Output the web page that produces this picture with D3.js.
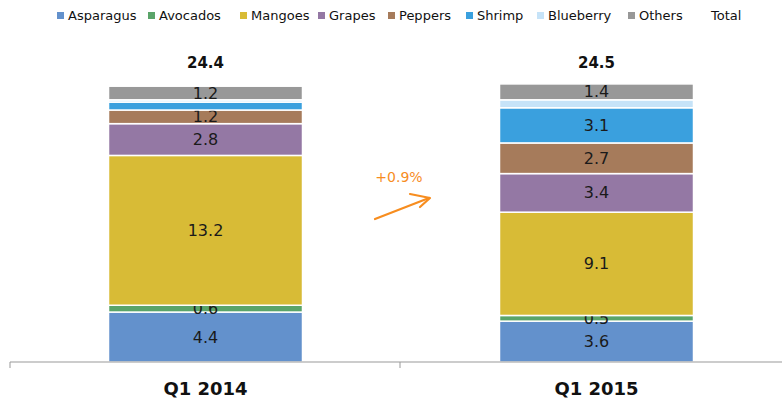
<!DOCTYPE html>
<html>
<head>
<meta charset="utf-8">
<script src="https://cdn.jsdelivr.net/npm/d3@7"></script>
<style>
  body { margin: 0; background: #fff; }
  text { font-family: "DejaVu Sans", Tahoma, sans-serif; }
</style>
</head>
<body>
<svg id="chart" width="782" height="405"></svg>
<script>
// data
var periods = ["Q1 2014", "Q1 2015"]
var products = ["Asparagus", "Avocados", "Mangoes", "Grapes", "Peppers", "Shrimp", "Blueberry", "Others"]
var q12014 = [4.4, 0.6, 13.2, 2.8, 1.2, 0.7, 0.2, 1.2]
var q12015 = [3.6, 0.5, 9.1, 3.4, 2.7, 3.1, 0.7, 1.4]
var totals = [24.4, 24.5]
var colors = ["#6391cc", "#5aa469", "#d8bb36", "#9478a4", "#a67b5b", "#3aa0de", "#c6e3f8", "#989898"]
var growthLabel = "+0.9%"
// segments below this get no label
var minLabel = 1.0

var svg = d3.select("#chart")
var baseY = 362

var x = d3.scaleBand()
  .domain(periods)
  .range([10, 792])
  .paddingInner(0)
  .paddingOuter(0)

var y = d3.scaleLinear()
  .domain([0, 25])
  .range([baseY, baseY - 25 * 11.35])

var barW = 194
var series = [q12014, q12015]

// stacked bars
series.forEach(function(vals, pi){
  var cx = x(periods[pi]) + x.bandwidth() / 2
  var cum = 0
  var g = svg.append("g")
  vals.forEach(function(v, i){
    var y0 = y(cum), y1 = y(cum + v)
    g.append("rect")
      .attr("x", cx - barW / 2)
      .attr("y", y1)
      .attr("width", barW)
      .attr("height", y0 - y1)
      .attr("fill", colors[i])
      .attr("stroke", "#fff")
      .attr("stroke-width", 1.5)
    if (v >= minLabel || products[i] == "Avocados") {
      g.append("text")
        .attr("x", cx)
        .attr("y", (y0 + y1) / 2 + 5.5)
        .attr("text-anchor", "middle")
        .attr("font-size", "16px")
        .attr("fill", "#1a1a1a")
        .text(d3.format(".1f")(v))
    }
    cum += v
  })
  svg.append("text")
    .attr("x", cx)
    .attr("y", 68)
    .attr("text-anchor", "middle")
    .attr("font-size", "15px")
    .attr("font-weight", "bold")
    .attr("fill", "#111")
    .text(d3.format(".1f")(totals[pi]))
})

// axis
var axis = svg.append("g").attr("transform", "translate(0," + baseY + ")")
axis.append("line").attr("x1", 10).attr("x2", 782).attr("y1", 0).attr("y2", 0)
  .attr("stroke", "#999").attr("stroke-width", 1)
;[10, 400].forEach(function(t){
  axis.append("line").attr("x1", t).attr("x2", t).attr("y1", 0).attr("y2", 6)
    .attr("stroke", "#999").attr("stroke-width", 1)
})
periods.forEach(function(p){
  axis.append("text")
    .attr("x", x(p) + x.bandwidth() / 2)
    .attr("y", 33)
    .attr("text-anchor", "middle")
    .attr("font-size", "18px")
    .attr("font-weight", "bold")
    .attr("font-family", "'DejaVu Sans Condensed', 'DejaVu Sans', sans-serif")
    .attr("fill", "#111")
    .text(p)
})

// growth arrow
var orange = "#f78d1f"
svg.append("text")
  .attr("x", 399).attr("y", 182)
  .attr("text-anchor", "middle")
  .attr("font-size", "14px")
  .attr("fill", orange)
  .text(growthLabel)
svg.append("line")
  .attr("x1", 375).attr("y1", 219).attr("x2", 429).attr("y2", 198)
  .attr("stroke", orange).attr("stroke-width", 2.2).attr("stroke-linecap", "round")
svg.append("path")
  .attr("d", "M410,194 L430,198 L420,207")
  .attr("fill", "none").attr("stroke", orange).attr("stroke-width", 2.2)
  .attr("stroke-linecap", "round").attr("stroke-linejoin", "round")

// legend
var legendX = [57, 148, 240, 318, 388, 466, 537, 628]
var legend = svg.append("g")
products.forEach(function(p, i){
  legend.append("rect")
    .attr("x", legendX[i]).attr("y", 12)
    .attr("width", 7).attr("height", 7)
    .attr("fill", colors[i])
  legend.append("text")
    .attr("x", legendX[i] + 11).attr("y", 20)
    .attr("font-size", "13px")
    .attr("fill", "#111")
    .text(p)
})
legend.append("text")
  .attr("x", 711).attr("y", 20)
  .attr("font-size", "13px")
  .attr("fill", "#111")
  .text("Total")
</script>
</body>
</html>
